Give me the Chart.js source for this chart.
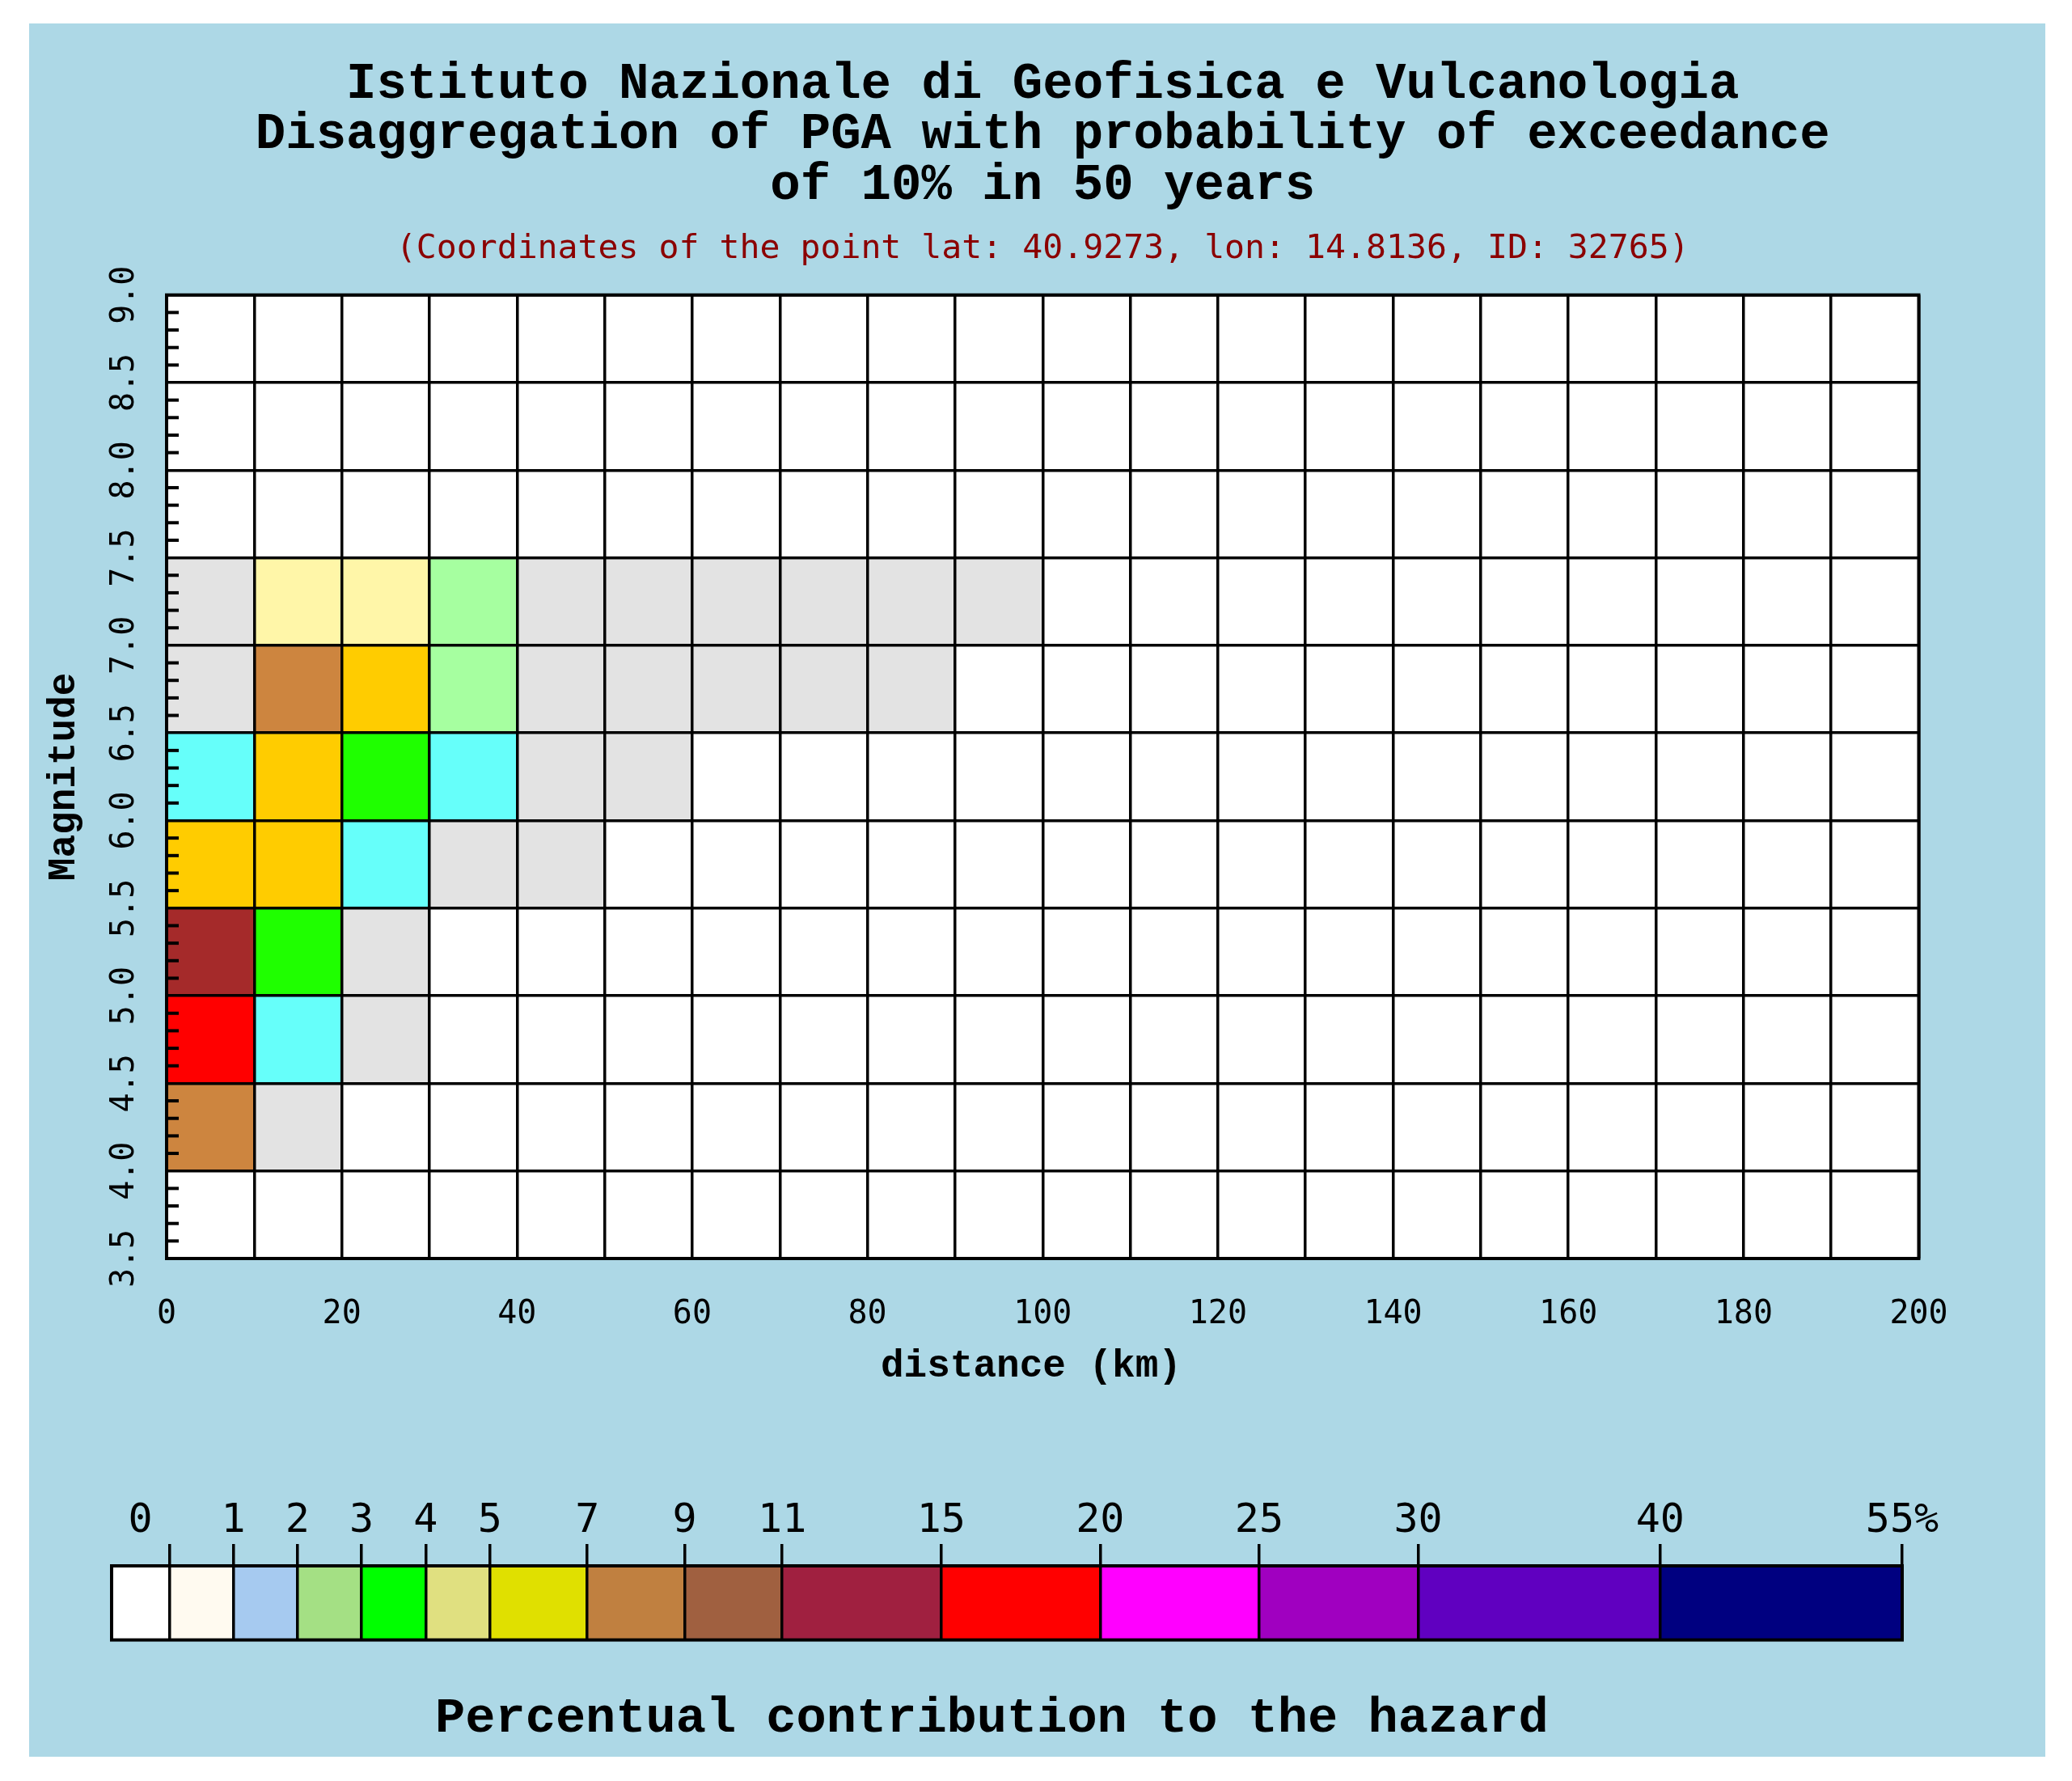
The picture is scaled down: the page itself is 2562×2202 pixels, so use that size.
<!DOCTYPE html>
<html>
<head>
<meta charset="utf-8">
<title>Disaggregation of PGA</title>
<script src="https://cdn.jsdelivr.net/npm/chart.js@4"></script>
<style>
  html, body { margin: 0; padding: 0; background: #ffffff; }
  #page { position: relative; width: 2562px; height: 2202px; overflow: hidden; }
  #panel { position: absolute; left: 36px; top: 29px; width: 2493px; height: 2143px; background: #add8e6; }
  canvas { position: absolute; left: 0; }
  #plot { top: 0; }
  #scale { top: 1800px; }
</style>
</head>
<body>
<div id="page">
  <div id="panel"></div>
  <canvas id="plot" width="2562" height="1780"></canvas>
  <canvas id="scale" width="2562" height="402"></canvas>
</div>
<script>
// Tick labels of the two plot axes
const distanceTicks = ['0', '', '20', '', '40', '', '60', '', '80', '', '100', '', '120', '', '140', '', '160', '', '180', '', '200'];
const magnitudeTicks = ['3.5', '4.0', '4.5', '5.0', '5.5', '6.0', '6.5', '7.0', '7.5', '8.0', '8.5', '9.0'];
const minorMagnitudes = [3.6, 3.7, 3.8, 3.9, 4.1, 4.2, 4.3, 4.4, 4.6, 4.7, 4.8, 4.9, 5.1, 5.2, 5.3, 5.4, 5.6, 5.7, 5.8, 5.9,
    6.1, 6.2, 6.3, 6.4, 6.6, 6.7, 6.8, 6.9, 7.1, 7.2, 7.3, 7.4, 7.6, 7.7, 7.8, 7.9, 8.1, 8.2, 8.3, 8.4, 8.6, 8.7, 8.8, 8.9];

// Contribution class of each 10 km column, one list per magnitude bin
const mag40 = [7, 1];
const mag45 = [9, 4, 1];
const mag50 = [8, 5, 1];
const mag55 = [6, 6, 4, 1, 1];
const mag60 = [4, 6, 5, 4, 1, 1];
const mag65 = [1, 7, 6, 3, 1, 1, 1, 1, 1];
const mag70 = [1, 2, 2, 3, 1, 1, 1, 1, 1, 1];
const magnitudeBins = [[4.0, mag40], [4.5, mag45], [5.0, mag50], [5.5, mag55], [6.0, mag60], [6.5, mag65], [7.0, mag70]];

// Colour scale below the plot
const scaleLabels = ['0', '1', '2', '3', '4', '5', '7', '9', '11', '15', '20', '25', '30', '40', '55%'];
const scaleSpans = [1.8, 2, 2, 2, 2, 2, 3.04, 3.04, 3.04, 4.96, 4.96, 4.96, 4.96, 7.55, 7.55];
const scaleColors = ['#ffffff', '#fffaf0', '#a6caf0', '#a4e084', '#00ff00', '#e0e080', '#e0e000', '#c08040',
    '#a06040', '#a02040', '#ff0000', '#ff00ff', '#a000c0', '#6000c0', '#000080'];

const classColors = { 1: '#e3e3e3', 2: '#fff6a8', 3: '#a6ffa0', 4: '#66fffa', 5: '#1fff00', 6: '#ffcc00', 7: '#cd853f', 8: '#a52a2a', 9: '#ff0000' };

const THIN = 'DejaVu Sans Mono';
const SLAB = 'Liberation Mono';

// Armar las celdas como barras flotantes
const cells = [];
magnitudeBins.forEach(([low, row]) => {
    row.forEach((level, col) => {
        cells.push({ x: col * 10 + 5, y: [low, low + 0.5], level: level });
    });
});

// Fondo blanco y marco del area del grafico
const framePlugin = {
    id: 'frame',
    beforeDatasetsDraw(chart) {
        const a = chart.chartArea;
        chart.ctx.save();
        chart.ctx.fillStyle = '#ffffff';
        chart.ctx.fillRect(a.left, a.top, a.width, a.height);
        chart.ctx.restore();
    },
    afterDraw(chart) {
        const a = chart.chartArea;
        const c = chart.ctx;
        c.save();
        c.strokeStyle = '#000000';
        c.lineWidth = 4;
        c.strokeRect(a.left, a.top, a.width, a.height);
        c.restore();
    }
};

// Marcas menores de magnitud, hacia dentro del area
const minorTicksPlugin = {
    id: 'minorTicks',
    afterDraw(chart) {
        const y = chart.scales.y;
        const c = chart.ctx;
        c.save();
        c.strokeStyle = '#000000';
        c.lineWidth = 4;
        minorMagnitudes.forEach(m => {
            const py = y.getPixelForValue(m);
            c.beginPath();
            c.moveTo(chart.chartArea.left, py);
            c.lineTo(chart.chartArea.left + 15, py);
            c.stroke();
        });
        c.restore();
    }
};

new Chart(document.getElementById('plot'), {
    type: 'bar',
    data: {
        datasets: [{
            data: cells,
            backgroundColor: ctx => classColors[ctx.raw.level],
            borderWidth: 0,
            barPercentage: 1,
            categoryPercentage: 1,
            grouped: false
        }]
    },
    plugins: [framePlugin, minorTicksPlugin],
    options: {
        responsive: false,
        animation: false,
        devicePixelRatio: 1,
        layout: { padding: { left: 36, right: 189.5, top: 29, bottom: 24 } },
        plugins: {
            legend: { display: false },
            tooltip: { enabled: false },
            title: {
                display: true,
                fullSize: false,
                text: ['Istituto Nazionale di Geofisica e Vulcanologia',
                    'Disaggregation of PGA with probability of exceedance',
                    'of 10% in 50 years'],
                color: '#000000',
                font: { family: SLAB, size: 62.4, weight: 'bold', lineHeight: 1 },
                padding: { top: 45, bottom: 23 }
            },
            subtitle: {
                display: true,
                fullSize: false,
                text: '(Coordinates of the point lat: 40.9273, lon: 14.8136, ID: 32765)',
                color: '#8b0000',
                font: { family: THIN, size: 41.5, weight: 'normal', lineHeight: 1 },
                padding: { top: 3, bottom: 36 }
            }
        },
        scales: {
            x: {
                type: 'linear',
                offset: false,
                min: 0,
                max: 200,
                afterFit: scale => { scale.height = 200; },
                grid: { offset: false, color: '#000000', lineWidth: 3.5, drawTicks: false, z: 1 },
                border: { display: false },
                ticks: {
                    stepSize: 10,
                    autoSkip: false,
                    maxRotation: 0,
                    padding: 46,
                    color: '#000000',
                    font: { family: THIN, size: 40 },
                    callback: (value, index) => distanceTicks[index]
                },
                title: {
                    display: true,
                    text: 'distance (km) ',
                    color: '#000000',
                    font: { family: SLAB, size: 47.7, weight: 'bold', lineHeight: 1 },
                    padding: { top: 0, bottom: 42 }
                }
            },
            y: {
                type: 'linear',
                min: 3.5,
                max: 9,
                afterFit: scale => { scale.width = 170; },
                grid: { color: '#000000', lineWidth: 3.5, drawTicks: false, z: 1 },
                border: { display: false },
                ticks: {
                    stepSize: 0.5,
                    autoSkip: false,
                    minRotation: 90,
                    maxRotation: 90,
                    crossAlign: 'center',
                    padding: 15,
                    color: '#000000',
                    font: { family: THIN, size: 40 },
                    callback: (value, index) => magnitudeTicks[index]
                },
                title: {
                    display: true,
                    text: 'Magnitude',
                    color: '#000000',
                    font: { family: SLAB, size: 47.7, weight: 'bold', lineHeight: 1 },
                    padding: { top: 20, bottom: 0 }
                }
            }
        }
    }
});

// Barra de colores: una barra apilada por cada clase
const scaleEdges = [];
scaleSpans.reduce((sum, span) => {
    scaleEdges.push(sum + span);
    return sum + span;
}, 0);
const scaleTotal = scaleEdges[scaleEdges.length - 1];

new Chart(document.getElementById('scale'), {
    type: 'bar',
    data: {
        labels: [''],
        datasets: scaleSpans.map((span, i) => ({
            data: [span],
            backgroundColor: scaleColors[i],
            borderWidth: 0,
            barPercentage: 1,
            categoryPercentage: 1
        }))
    },
    plugins: [framePlugin],
    options: {
        indexAxis: 'y',
        responsive: false,
        animation: false,
        devicePixelRatio: 1,
        layout: { padding: { left: 138, right: 210, top: 0, bottom: 45.4 } },
        plugins: {
            legend: { display: false },
            tooltip: { enabled: false },
            title: {
                display: true,
                position: 'bottom',
                text: 'Percentual contribution to the hazard ',
                color: '#000000',
                font: { family: SLAB, size: 62, weight: 'bold', lineHeight: 1 },
                padding: { top: 67, bottom: 0 }
            }
        },
        scales: {
            x: {
                type: 'linear',
                position: 'top',
                stacked: true,
                min: 0,
                max: scaleTotal,
                afterFit: scale => { scale.height = 136; },
                // Marca de cada borde; el "0" va centrado en la primera clase, sin marca propia
                afterBuildTicks: scale => {
                    scale.ticks = [{ value: scaleSpans[0] / 2 }].concat(scaleEdges.map(v => ({ value: v })));
                },
                grid: {
                    color: ctx => (ctx.index === 0 ? 'rgba(0,0,0,0)' : '#000000'),
                    lineWidth: 3.5,
                    tickLength: 27,
                    z: 1
                },
                border: { display: false },
                ticks: {
                    autoSkip: false,
                    maxRotation: 0,
                    padding: -2,
                    color: '#000000',
                    font: { family: THIN, size: 50 },
                    callback: (value, index) => (index === 0 ? scaleLabels[0] : index === 1 ? '' : scaleLabels[index - 1])
                }
            },
            y: {
                type: 'category',
                stacked: true,
                display: false,
                afterFit: scale => { scale.width = 0; }
            }
        }
    }
});
</script>
</body>
</html>
